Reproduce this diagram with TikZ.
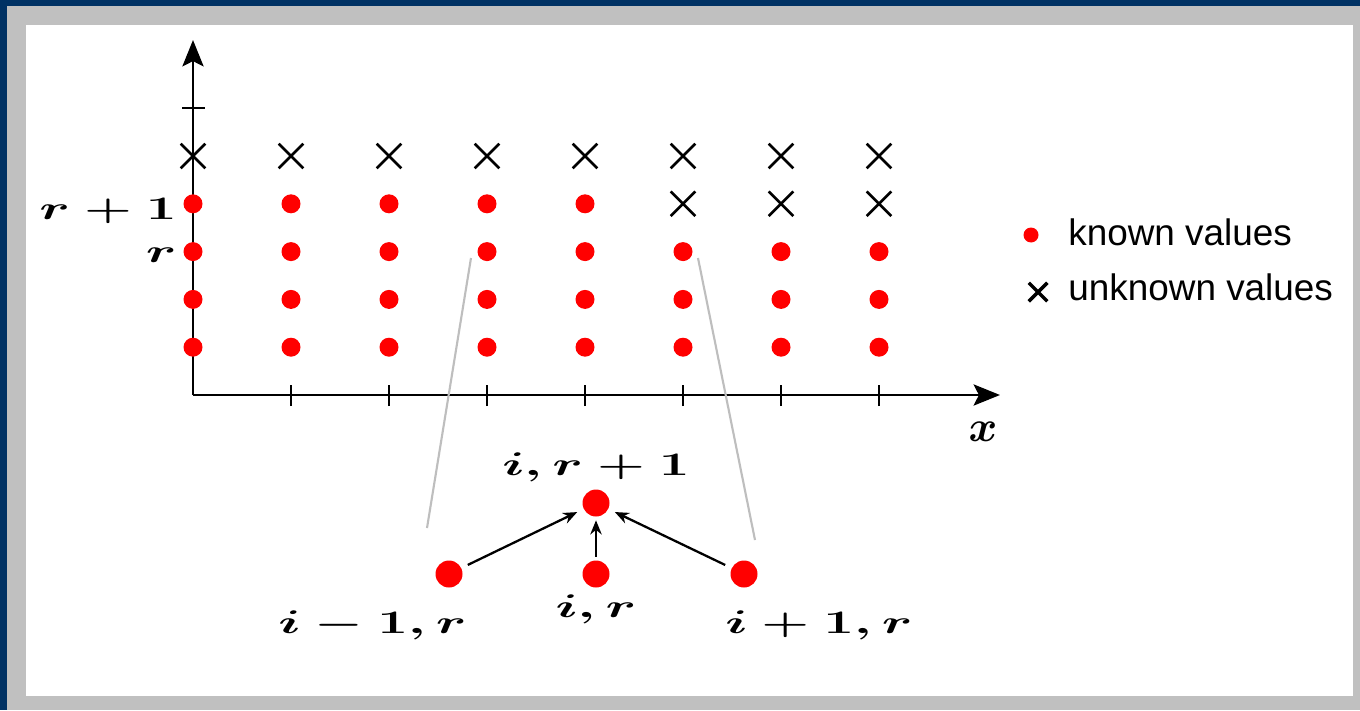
\documentclass[tikz,border=0pt]{standalone}
\usepackage{amsmath,amssymb}
\usepackage{bm}
\usepackage{graphicx}
\usepackage{fontspec}
\newfontfamily\legendfont{Liberation Sans}
\usepackage{tikz}
\usetikzlibrary{shapes.misc, arrows.meta, positioning, calc}
\definecolor{framenavy}{RGB}{0,50,100}
\definecolor{framegray}{RGB}{192,192,192}
\definecolor{zoomgray}{RGB}{190,190,190}
\definecolor{dotred}{RGB}{255,0,0}
\newcommand{\ilbl}[1]{\scalebox{1.5}[0.9]{$#1$}}
\tikzset{
  knowndot/.style={circle,fill=dotred,inner sep=0pt,minimum size=0.38cm},
  bigdot/.style={circle,fill=dotred,inner sep=0pt,minimum size=0.54cm},
  unknowncross/.style={cross out,draw=black,line width=1.5pt,inner sep=0pt,minimum size=0.44cm},
  axisarr/.style={-{Stealth[length=15pt,width=12pt,inset=3pt]},line width=1.6pt},
  tickln/.style={line width=0.9pt},
  arr/.style={-{Stealth[length=8pt,width=6.5pt]},line width=1.3pt,shorten <=4pt,shorten >=4pt},
  zoomln/.style={draw=zoomgray,line width=1.2pt},
  mathlbl/.style={font=\fontsize{21}{25}\selectfont\boldmath,inner sep=0pt},
  legtext/.style={font=\legendfont\fontsize{21}{25}\selectfont,inner sep=0pt}
}

\begin{document}
\begin{tikzpicture}
  \useasboundingbox (-3.86,-6.3) rectangle (23.34,7.9);
  \fill[framenavy] (-3.86,-6.3) rectangle (23.34,7.9);
  \fill[framegray] (-3.72,-6.3) rectangle (23.34,7.78);
  \fill[white] (-3.34,-6.02) rectangle (23.2,7.4);
  % axes
  \coordinate (o) at (0,0);
  \coordinate (xend) at (16.14,0);
  \coordinate (yend) at (0,7.1);
  \foreach \i in {1,...,7} \draw[tickln] (\i*1.96,-0.22) -- (\i*1.96,0.2);
  \draw[tickln] (-0.22,6*0.956) -- (0.24,6*0.956);
  \draw[axisarr] (o) -- (xend);
  \draw[axisarr] (o) -- (yend);
  \node[mathlbl,font=\fontsize{28}{32}\selectfont\boldmath,anchor=base] (lblx) at (15.8,-0.92) {$x$};
  % grid of known / unknown values
  \foreach \i in {0,...,7} {
    \foreach \j in {1,2,3} \node[knowndot] (g-\i-\j) at (\i*1.96,\j*0.956) {};
    \node[unknowncross] (g-\i-5) at (\i*1.96,5*0.956) {};
  }
  \foreach \i in {0,...,4} \node[knowndot] (g-\i-4) at (\i*1.96,4*0.956) {};
  \foreach \i in {5,6,7} \node[unknowncross] (g-\i-4) at (\i*1.96,4*0.956) {};
  \node[mathlbl,anchor=base east] (lblr1) at (-0.32,3.52) {\ilbl{r+1}};
  \node[mathlbl,anchor=base east] (lblr) at (-0.32,2.66) {\ilbl{r}};
  % legend
  \node[knowndot,minimum size=0.3cm] (legk) at (16.76,3.2) {};
  \node[legtext,anchor=base west] (legktxt) at (17.5,3.0) {known values};
  \node[unknowncross,minimum size=0.3cm,line width=2pt] (legu) at (16.9,2.06) {};
  \node[legtext,anchor=base west] (legutxt) at (17.5,1.9) {unknown values};
  % zoomed stencil
  \coordinate (zl1) at (5.56,2.74);
  \coordinate (zl2) at (4.68,-2.66);
  \coordinate (zr1) at (10.1,2.74);
  \coordinate (zr2) at (11.24,-2.9);
  \draw[zoomln] (zl1) -- (zl2);
  \draw[zoomln] (zr1) -- (zr2);
  \node[bigdot] (top) at (8.06,-2.16) {};
  \node[bigdot] (bl) at (5.12,-3.58) {};
  \node[bigdot] (bm) at (8.06,-3.58) {};
  \node[bigdot] (br) at (11.02,-3.58) {};
  \draw[arr] (bl) -- (top);
  \draw[arr,shorten <=2pt,shorten >=2pt] (bm) -- (top);
  \draw[arr] (br) -- (top);
  \node[mathlbl,anchor=base] (lbltop) at (8.06,-1.6) {\ilbl{i,r+1}};
  \node[mathlbl,anchor=base] (lblbl) at (3.59,-4.76) {\ilbl{i-1,r}};
  \node[mathlbl,anchor=base] (lblbm) at (8.06,-4.44) {\ilbl{i,r}};
  \node[mathlbl,anchor=base] (lblbr) at (12.52,-4.76) {\ilbl{i+1,r}};
\end{tikzpicture}
\end{document}
